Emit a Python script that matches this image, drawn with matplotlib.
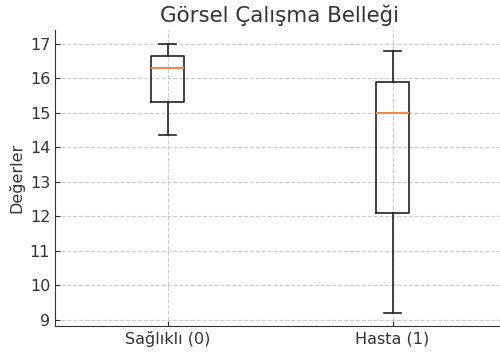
import matplotlib.pyplot as plt

# group labels and per-group box statistics
groups = ['Sağlıklı (0)', 'Hasta (1)']
whisker_low = [14.35, 9.2]
q1 = [15.32, 12.1]
median = [16.3, 15.0]
q3 = [16.65, 15.9]
whisker_high = [17.0, 16.8]

plt.rcParams['font.family'] = ['DejaVu Sans']
plt.rcParams['text.color'] = '#333333'
plt.rcParams['axes.labelcolor'] = '#333333'
plt.rcParams['xtick.color'] = '#333333'
plt.rcParams['ytick.color'] = '#333333'

stats = []
for i in range(len(groups)):
    stats.append(dict(label=groups[i], whislo=whisker_low[i], q1=q1[i], med=median[i],
                      q3=q3[i], whishi=whisker_high[i], fliers=[]))

fig = plt.figure(figsize=(5, 3.6), dpi=100)
ax = fig.add_axes([0.11, 0.094, 0.9, 0.822])
ax.bxp(stats, widths=0.15, showfliers=False,
       boxprops=dict(color='#222222', linewidth=1.2),
       whiskerprops=dict(color='#222222', linewidth=1.2),
       capprops=dict(color='#222222', linewidth=1.2),
       medianprops=dict(color='#f08a50', linewidth=1.5))
ax.set_xlim(0.5, 2.5)

ax.set_title('Görsel Çalışma Belleği', fontsize=15.4, color='#333333')
ax.set_ylabel('Değerler', fontsize=11.5)
ax.tick_params(direction='in', labelsize=11.5)
ax.grid(True, linestyle='--', color='#cccccc', linewidth=0.8)
ax.set_axisbelow(True)
for side in ['top', 'right']:
    ax.spines[side].set_visible(False)
for side in ['left', 'bottom']:
    ax.spines[side].set_color('#333333')

fig.savefig('out.png', dpi=100)
